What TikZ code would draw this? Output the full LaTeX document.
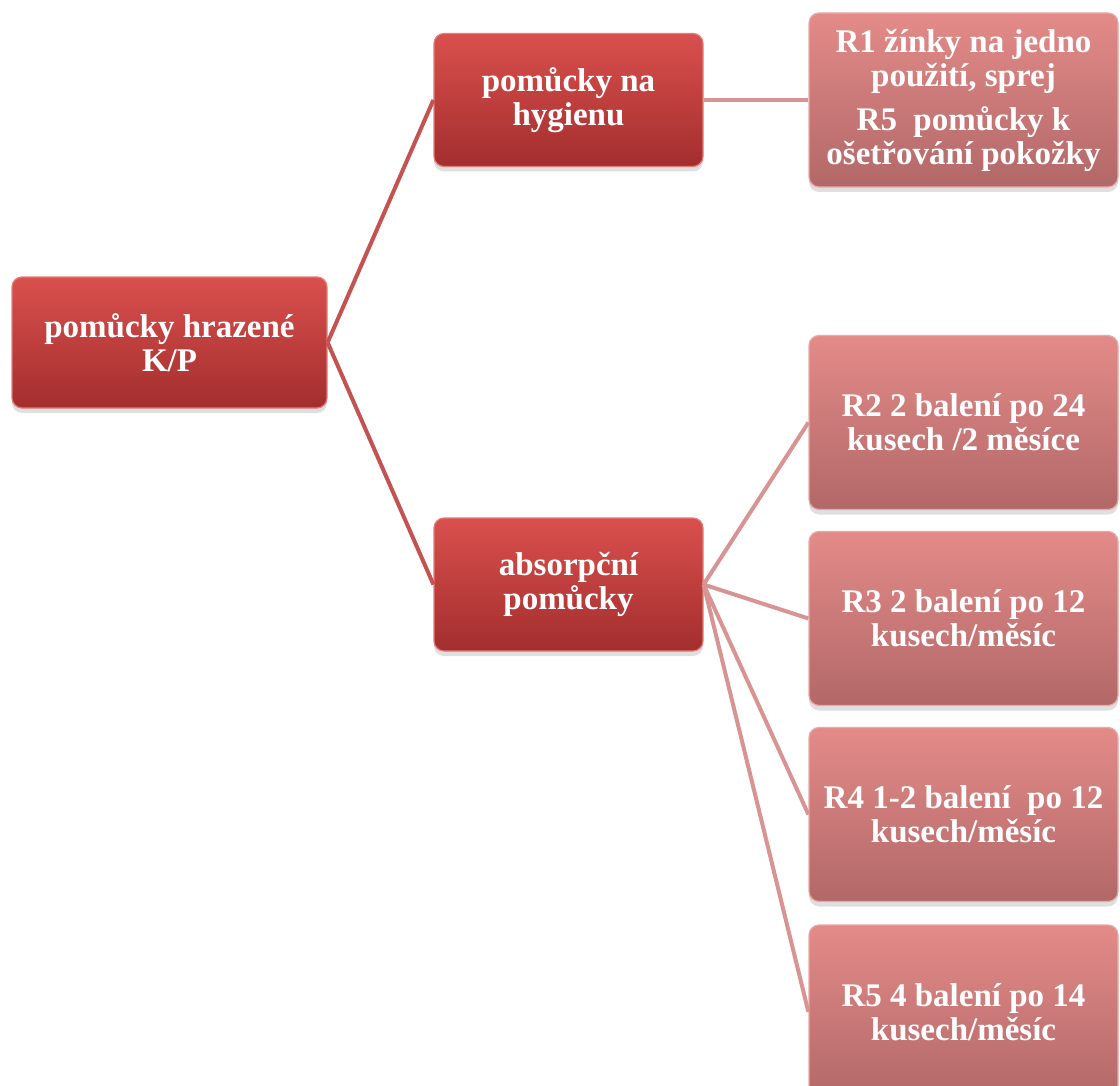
\documentclass[tikz,border=0pt]{standalone}
\usepackage{fontspec}
\setmainfont{Liberation Serif}
\usepackage{tikz}
\usetikzlibrary{shadows}

\definecolor{boxtop}{RGB}{217,80,77}
\definecolor{boxbot}{RGB}{163,46,46}
\definecolor{leaftop}{RGB}{227,139,137}
\definecolor{leafbot}{RGB}{178,104,104}
\definecolor{trunkline}{RGB}{196,82,80}
\definecolor{twigline}{RGB}{216,148,147}

\begin{document}
\begin{tikzpicture}
        [ x=0.5pt, y=-0.5pt
        , box/.style={rounded corners=5pt, draw=boxtop!75!white, line width=0.6pt,
                      top color=boxtop, bottom color=boxbot, text=white,
                      font=\bfseries\fontsize{16.5}{17}\selectfont, align=center, inner sep=0pt,
                      drop shadow={opacity=0.25, shadow xshift=0pt, shadow yshift=-2.5pt}}
        , root/.style={box, minimum width=157.5pt, minimum height=65.5pt}
        , mid/.style={box, minimum width=134.5pt, minimum height=66.5pt}
        , leaf/.style={box, top color=leaftop, bottom color=leafbot, draw=leaftop!75!white,
                       minimum width=154.5pt, minimum height=87pt}
        , trunk/.style={draw=trunkline, line width=2pt}
        , twig/.style={draw=twigline, line width=2pt}
        ]
                \useasboundingbox (0,0) rectangle (1120,1086);

                \node[root] (hrazene) at (169.5,342.5) {pomůcky hrazené\\K/P};
                \node[mid] (hygiena) at (568.5,100) {pomůcky na\\hygienu};
                \node[mid] (absorpce) at (568.5,584.5) {absorpční\\pomůcky};

                \node[leaf] (rhyg) at (963.5,100) {R1 žínky na jedno\\použití, sprej\\[5pt]R5~ pomůcky k\\ošetřování pokožky};
                \node[leaf] (r2) at (963.5,422.5) {R2 2 balení po 24\\kusech /2 měsíce};
                \node[leaf] (r3) at (963.5,618.5) {R3 2 balení po 12\\kusech/měsíc};
                \node[leaf] (r4) at (963.5,814.5) {R4 1-2 balení~ po 12\\kusech/měsíc};
                \node[leaf] (r5) at (963.5,1012) {R5 4 balení po 14\\kusech/měsíc};

                \draw[trunk] (hrazene.east) -- (hygiena.west);
                \draw[trunk] (hrazene.east) -- (absorpce.west);
                \draw[twig] (hygiena.east) -- (rhyg.west);
                \draw[twig] (absorpce.east) -- (r2.west);
                \draw[twig] (absorpce.east) -- (r3.west);
                \draw[twig] (absorpce.east) -- (r4.west);
                \draw[twig] (absorpce.east) -- (r5.west);
        \end{tikzpicture}
\end{document}
